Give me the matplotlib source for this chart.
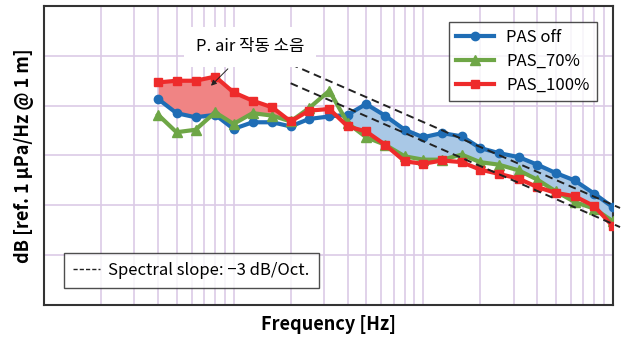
import numpy as np
import matplotlib
matplotlib.use('Agg')
import matplotlib.pyplot as plt
from matplotlib.lines import Line2D

plt.rcParams['font.family'] = ['Noto Sans CJK KR', 'DejaVu Sans']

# 1/3 octave band centre frequencies
freq = [20, 25, 31.5, 40, 50, 63, 80, 100, 125, 160, 200, 250, 315, 400,
        500, 630, 800, 1000, 1250, 1600, 2000, 2500, 3150, 4000, 5000]

pas_off = [108.8, 107.1, 106.6, 106.9, 105.2, 106.0, 106.0, 105.5, 106.4, 106.7,
           106.9, 108.2, 106.8, 105.1, 104.2, 104.7, 104.3, 102.9, 102.3, 101.8,
           100.9, 99.9, 99.0, 97.4, 95.8]
pas_70 = [106.9, 104.8, 105.1, 107.2, 105.8, 107.1, 106.8, 106.1, 107.7, 109.8,
          105.9, 104.2, 103.3, 101.9, 101.5, 101.5, 102.1, 101.2, 100.9, 100.2,
          99.1, 97.7, 96.4, 95.6, 94.1]
pas_100 = [110.8, 111.0, 111.0, 111.5, 109.6, 108.6, 107.8, 106.1, 107.4, 107.6,
           105.5, 104.9, 103.3, 101.3, 101.0, 101.4, 101.2, 100.3, 99.8, 99.2,
           98.2, 97.5, 97.1, 95.9, 93.5]

labels = ['PAS off', 'PAS_70%', 'PAS_100%']
colors = ['#1f6db5', '#6ea646', '#ee2b2b']
markers = ['o', '^', 's']

# reference slope lines, -3 dB per octave starting at 100 Hz
slope = -3.0
slope_f = [100, 5470]
slope_start = [113.0, 110.7]

f = np.array(freq)
off = np.array(pas_off)
p70 = np.array(pas_70)
p100 = np.array(pas_100)

fig = plt.figure(figsize=(6.29, 3.41), dpi=100)
ax = fig.add_axes([0.070, 0.1056, 0.904, 0.8768])

ax.set_xscale('log')
ax.set_xlim(5, 5000)
ax.set_ylim(84, 120)

grid_f = [k * 10 ** n for n in (1, 2, 3) for k in (1, 1.5, 2, 2.5, 3, 3.5, 4, 4.5, 5)]
grid_f = [g for g in grid_f if g < 5000]
ax.set_xticks(grid_f)
ax.set_xticks([], minor=True)
ax.set_yticks([90, 96, 102, 108, 114])
ax.tick_params(which='both', length=0, labelbottom=False, labelleft=False)
ax.grid(True, color='#dccbe6', linewidth=1.2)
ax.set_axisbelow(True)
for s in ax.spines.values():
    s.set_color('#333333')
    s.set_linewidth(1.5)

# shaded differences
low = f <= 100
lower_r = np.maximum(off, p70)
ax.fill_between(f[low], p100[low], lower_r[low], where=p100[low] >= lower_r[low],
                interpolate=True, color='#f08484', lw=0, zorder=1)
high = f >= 125
upper_b = np.maximum(p100, p70)
ax.fill_between(f[high], off[high], upper_b[high], where=off[high] >= upper_b[high],
                interpolate=True, color='#a9c8e6', lw=0, zorder=1)

for y, lab, c, m in zip([off, p70, p100], labels, colors, markers):
    ms = 7 if m == '^' else 6
    ax.plot(f, y, color=c, lw=3, marker=m, ms=ms, label=lab, zorder=3)

for y0 in slope_start:
    fs = np.array(slope_f, dtype=float)
    ax.plot(fs, y0 + slope * np.log2(fs / fs[0]), color='#222222', lw=1.4,
            ls=(0, (4, 2.5)), clip_on=False, zorder=4)

ax.annotate('P. air 작동 소음', xy=(38, 110.4), xytext=(61, 115.1),
            ha='center', va='center', fontsize=12,
            bbox=dict(boxstyle='square,pad=0.7', fc='white', ec='none'),
            arrowprops=dict(arrowstyle='-|>', color='#222222', lw=0.7,
                            mutation_scale=8, shrinkA=2, shrinkB=0),
            zorder=5)

leg = ax.legend(loc='upper right', bbox_to_anchor=(0.987, 0.975), fontsize=12,
                frameon=True, fancybox=False, edgecolor='#222222',
                handlelength=2.3, numpoints=1, borderpad=0.45, labelspacing=0.4,
                handletextpad=0.7)
leg.get_frame().set_linewidth(1.0)
ax.add_artist(leg)

slope_handle = Line2D([], [], color='#222222', lw=1.0, ls=(0, (3, 1.5)))
leg2 = ax.legend([slope_handle], ['Spectral slope: \u22123 dB/Oct.'],
                 loc='lower left', bbox_to_anchor=(0.021, 0.028), fontsize=12,
                 frameon=True, fancybox=False, edgecolor='#222222',
                 handlelength=1.6, handletextpad=0.5, borderpad=0.55)
leg2.get_frame().set_linewidth(1.0)

ax.set_xlabel('Frequency [Hz]', fontsize=13, fontweight='bold', labelpad=7)
ax.set_ylabel('dB [ref. 1 \u03bcPa/Hz @ 1 m]', fontsize=13, fontweight='bold', labelpad=7)

fig.savefig('out.png', dpi=100)
